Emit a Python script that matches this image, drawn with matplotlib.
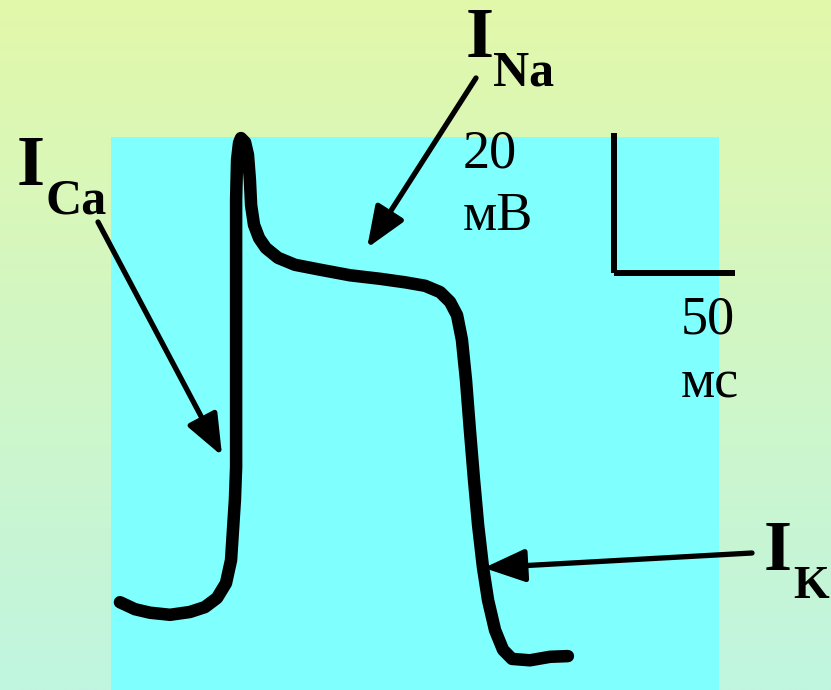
import numpy as np
import matplotlib
matplotlib.use("Agg")
import matplotlib.pyplot as plt
from matplotlib.patches import Rectangle
from matplotlib.colors import LinearSegmentedColormap

# ---- data: action potential trace (time in ms, potential in mV, arbitrary offset) ----
time_ms = [3.7, 9.9, 16.1, 24.4, 32.6, 38.8, 43.8, 47.5, 49.6, 50.4, 51.2,
           51.7, 51.7, 51.7, 51.7, 51.7,
           52.1, 52.9, 53.7, 55.4, 56.6, 57.4, 57.9, 59.1, 61.2, 64.0,
           69.0, 76.0, 86.4, 98.8, 111.2, 121.5, 129.8, 136.0, 140.1, 143.0,
           145.0, 146.7, 148.3, 150.0, 151.7, 153.7, 155.8, 158.7, 162.0, 165.7,
           173.1, 181.4, 188.8]
potential_mv = [-84.6, -85.6, -86.1, -86.4, -86.0, -85.3, -84.0, -81.9, -78.6, -74.3, -70.0,
                -65.3, -55.7, -45.7, -35.7, -27.1,
                -21.4, -19.0, -18.3, -18.9, -20.7, -24.3, -27.9, -30.7, -32.6, -34.0,
                -35.4, -36.4, -37.1, -37.9, -38.4, -38.9, -39.4, -40.3, -41.7, -43.6,
                -47.1, -52.9, -60.0, -67.1, -73.6, -79.6, -84.3, -88.6, -91.4, -92.7,
                -92.9, -92.4, -92.3]

# current labels and the points (ms, mV) their arrows point to
current_labels = ["Ca", "Na", "K"]
arrow_tips = {"Ca": (45.9, -63.7), "Na": (105.8, -34.0), "K": (154.1, -79.7)}

# scale bar
scale_mv = 20
scale_ms = 50
scale_labels = ["20", "мВ", "50", "мс"]

# ---- figure ----
W, H = 831, 690
fig = plt.figure(figsize=(W / 100, H / 100), dpi=100)
ax = fig.add_axes([0, 0, 1, 1])
PX_PER_MS = 2.42
PX_PER_MV = 7.0
x_left = -111 / PX_PER_MS
x_right = (W - 111) / PX_PER_MS
y_top = 10 / PX_PER_MV
y_bot = (10 - H) / PX_PER_MV
ax.set_xlim(x_left, x_right)
ax.set_ylim(y_bot, y_top)
ax.axis("off")

def d(xp, yp):
    """pixel (from top-left) -> data coords, used for layout only"""
    return (xp - 111) / PX_PER_MS, (10 - yp) / PX_PER_MV

# background gradient
cmap = LinearSegmentedColormap.from_list("bg", ["#E2F8AA", "#C0F5E0"])
grad = np.linspace(0, 1, 256).reshape(-1, 1)
ax.imshow(grad, cmap=cmap, extent=(x_left, x_right, y_bot, y_top), aspect="auto",
          origin="upper", zorder=0)

# cyan panel
x0, y0 = d(111, 690)
x1, y1 = d(719, 137)
ax.add_patch(Rectangle((x0, y0), x1 - x0, y1 - y0, facecolor="#80FFFF",
                       edgecolor="none", zorder=1))

# trace
ax.plot(time_ms, potential_mv, color="black", lw=9, solid_capstyle="round",
        solid_joinstyle="round", zorder=3)

# scale bar
sx, sy = d(614, 273)
ax.plot([sx, sx], [sy, sy + scale_mv], color="black", lw=4.3, solid_capstyle="butt", zorder=3)
ax.plot([sx, sx + scale_ms], [sy, sy], color="black", lw=4.3, solid_capstyle="butt", zorder=3)

serif = ["Liberation Serif", "DejaVu Serif"]
def txt(xp, yp, s, size, weight="normal"):
    fig.text(xp / W, 1 - yp / H, s, fontsize=size, fontweight=weight,
             family=serif, ha="left", va="baseline", zorder=5)

txt(463, 167, scale_labels[0], 39)
txt(463, 230, scale_labels[1], 39)
txt(681, 333, scale_labels[2], 39)
txt(681, 397, scale_labels[3], 39)

# current labels
label_pos = {"Ca": ((17, 185), (46, 213), 36), "Na": ((466, 57), (493, 86), 36),
             "K": ((764, 570), (793, 598), 33)}
arrow_tails = {"Ca": (98, 222), "Na": (476, 78), "K": (752, 553)}
for lab in current_labels:
    (ix, iy), (sx_, sy_), sub_size = label_pos[lab]
    txt(ix, iy, "I", 52, "bold")
    txt(sx_, sy_, lab, sub_size, "bold")
    tx, ty = arrow_tails[lab]
    ax.annotate("", xy=arrow_tips[lab], xycoords="data",
                xytext=(tx, H - ty), textcoords="figure pixels",
                arrowprops=dict(arrowstyle="-|>,head_length=1.25,head_width=0.5",
                                mutation_scale=20, lw=3.8, color="black",
                                shrinkA=0, shrinkB=0), zorder=4)

fig.savefig("out.png", dpi=100)
